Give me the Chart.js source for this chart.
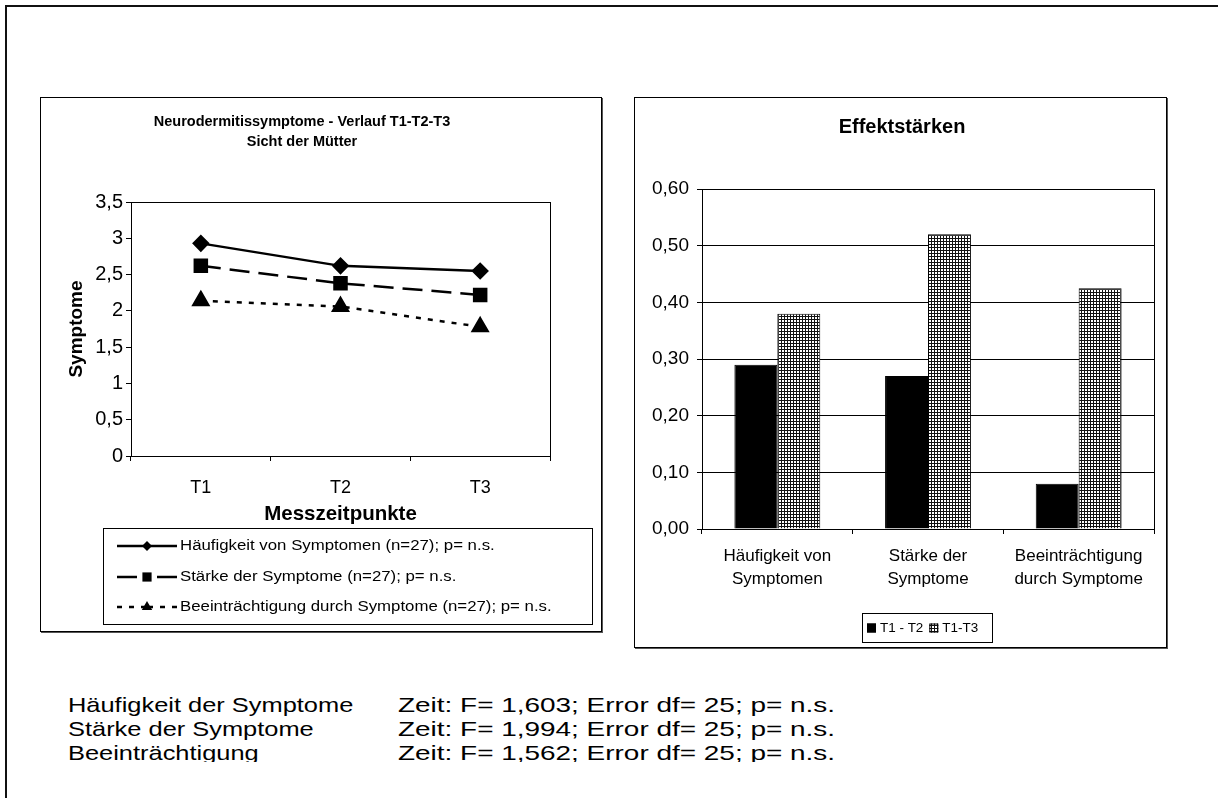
<!DOCTYPE html>
<html lang="de">
<head>
<meta charset="utf-8">
<title>Neurodermitissymptome - Effektstärken</title>
<script src="https://cdn.jsdelivr.net/npm/chart.js@4.4.0/dist/chart.umd.min.js"></script>
<style>
  html, body { margin: 0; padding: 0; background: #fff; overflow: hidden; }
  body { width: 1218px; height: 798px; position: relative; font-family: "Liberation Sans", Arial, sans-serif; }
  .frame { position: absolute; left: 5px; top: 5px; width: 1300px; height: 900px; border-left: 2px solid #111; border-top: 2px solid #111; }
  .box { position: absolute; border: 1px solid #000; box-shadow: 1px 1px 0 #555; background: #fff; }
  #leftBox { left: 40px; top: 97px; width: 560px; height: 533px; }
  #rightBox { left: 634px; top: 97px; width: 531px; height: 549px; }
  canvas { position: absolute; }
  #verlauf { left: 40px; top: 97px; }
  #effekte { left: 634px; top: 97px; }
  .notes { position: absolute; left: 0; top: 693px; width: 1218px; height: 69px; overflow: hidden; font-size: 21px; color: #000; }
  .row { position: relative; height: 24px; line-height: 24px; }
  .row span { position: absolute; top: 0; white-space: nowrap; transform-origin: 0 50%; }
  .c1 { left: 68px; transform: scaleX(1.21); }
  .c2 { left: 398px; transform: scaleX(1.33); }
</style>
</head>
<body>
<div class="frame"></div>
<div class="box" id="leftBox"></div>
<div class="box" id="rightBox"></div>
<canvas id="verlauf" width="562" height="535"></canvas>
<canvas id="effekte" width="533" height="551"></canvas>

<div class="notes">
  <div class="row"><span class="c1">Häufigkeit der Symptome</span><span class="c2">Zeit: F= 1,603; Error df= 25; p= n.s.</span></div>
  <div class="row"><span class="c1">Stärke der Symptome</span><span class="c2">Zeit: F= 1,994; Error df= 25; p= n.s.</span></div>
  <div class="row"><span class="c1">Beeinträchtigung</span><span class="c2">Zeit: F= 1,562; Error df= 25; p= n.s.</span></div>
</div>

<script>
// Verlauf T1-T2-T3 (Sicht der Mütter)
const timePoints = ['T1', 'T2', 'T3'];
const haeufigkeit = [2.93, 2.62, 2.55];
const staerke = [2.62, 2.38, 2.22];
const beeintraechtigung = [2.14, 2.06, 1.78];
const symptomTicks = ['0', '0,5', '1', '1,5', '2', '2,5', '3', '3,5'];

// Effektstärken
const effectCategories = [['Häufigkeit von', 'Symptomen'], ['Stärke der', 'Symptome'], ['Beeinträchtigung', 'durch Symptome']];
const effectT1T2 = [0.29, 0.27, 0.08];
const effectT1T3 = [0.38, 0.52, 0.425];
const effectTicks = ['0,00', '0,10', '0,20', '0,30', '0,40', '0,50', '0,60'];

Chart.defaults.font.family = '"Liberation Sans", Arial, sans-serif';
Chart.defaults.color = '#000';

// fine checkered fill like the old excel pattern
function gridPattern() {
  const c = document.createElement('canvas');
  c.width = 3;
  c.height = 3;
  const g = c.getContext('2d');
  g.fillStyle = '#fff';
  g.fillRect(0, 0, 3, 3);
  g.fillStyle = '#111';
  g.fillRect(0, 0, 3, 1);
  g.fillRect(0, 0, 1, 3);
  return g.createPattern(c, 'repeat');
}
const checkered = gridPattern();

function drawMarker(ctx, style, x, y, r) {
  ctx.beginPath();
  if (style === 'rectRot') {
    ctx.moveTo(x, y - r);
    ctx.lineTo(x + r, y);
    ctx.lineTo(x, y + r);
    ctx.lineTo(x - r, y);
  } else if (style === 'rect') {
    const s = r * Math.SQRT1_2;
    ctx.rect(x - s, y - s, 2 * s, 2 * s);
  } else {
    ctx.moveTo(x, y - r);
    ctx.lineTo(x + r * 0.866, y + r / 2);
    ctx.lineTo(x - r * 0.866, y + r / 2);
  }
  ctx.closePath();
  ctx.fill();
}

function wideText(ctx, text, x, y, stretch) {
  ctx.save();
  ctx.translate(x, y);
  ctx.scale(stretch, 1);
  ctx.fillText(text, 0, 0);
  ctx.restore();
}

// border round the plot area (top + right side)
const plotFrame = {
  id: 'plotFrame',
  afterDraw(chart) {
    const {ctx, chartArea: a} = chart;
    ctx.save();
    ctx.strokeStyle = '#000';
    ctx.lineWidth = 1;
    ctx.strokeRect(Math.round(a.left) + 0.5, Math.round(a.top) + 0.5,
      Math.round(a.right - a.left), Math.round(a.bottom - a.top));
    ctx.restore();
  }
};

// framed legend, either one row per series or all in one line
const boxLegend = {
  id: 'boxLegend',
  afterDraw(chart, args, opts) {
    const ctx = chart.ctx;
    const [bx, by, bw, bh] = opts.box;
    const stretch = opts.stretch || 1;
    ctx.save();
    ctx.fillStyle = '#fff';
    ctx.fillRect(bx, by, bw, bh);
    ctx.strokeStyle = '#000';
    ctx.lineWidth = 1;
    ctx.strokeRect(bx + 0.5, by + 0.5, bw, bh);
    ctx.font = opts.font;
    ctx.textBaseline = 'middle';
    ctx.textAlign = 'left';

    let cursor = bx + 5;
    chart.data.datasets.forEach((ds, i) => {
      ctx.fillStyle = '#000';
      if (opts.rows) {
        const y = opts.rows[i];
        const [x1, x2] = opts.sample;
        const mid = (x1 + x2) / 2;
        ctx.strokeStyle = ds.borderColor;
        ctx.lineWidth = ds.borderWidth;
        ctx.setLineDash(ds.borderDash || []);
        ctx.beginPath();
        ctx.moveTo(x1, y);
        ctx.lineTo(mid, y);
        ctx.moveTo(x2, y);
        ctx.lineTo(mid, y);
        ctx.stroke();
        ctx.setLineDash([]);
        ctx.fillStyle = ds.pointBackgroundColor;
        drawMarker(ctx, ds.pointStyle, mid, y, opts.markerRadius[i]);
        ctx.fillStyle = '#000';
        wideText(ctx, ds.label, opts.textX, y, stretch);
      } else {
        const y = by + bh / 2;
        ctx.fillStyle = ds.backgroundColor;
        ctx.fillRect(cursor, y - 4, 9, 9);
        ctx.strokeStyle = '#000';
        ctx.lineWidth = 1;
        ctx.strokeRect(cursor + 0.5, y - 3.5, 8, 8);
        cursor += 13;
        ctx.fillStyle = '#000';
        wideText(ctx, ds.label, cursor, y + 1, stretch);
        cursor += ctx.measureText(ds.label).width * stretch + 6;
      }
    });
    ctx.restore();
  }
};

new Chart(document.getElementById('verlauf'), {
  type: 'line',
  data: {
    labels: timePoints,
    datasets: [
      {
        label: 'Häufigkeit von Symptomen (n=27); p= n.s.',
        data: haeufigkeit,
        borderColor: '#000',
        borderWidth: 2.5,
        pointStyle: 'rectRot',
        pointRadius: 7,
        pointBackgroundColor: '#000',
        pointBorderColor: '#000',
      },
      {
        label: 'Stärke der Symptome (n=27); p= n.s.',
        data: staerke,
        borderColor: '#000',
        borderWidth: 2.5,
        borderDash: [20, 9],
        pointStyle: 'rect',
        pointRadius: 8.5,
        pointBackgroundColor: '#000',
        pointBorderColor: '#000',
      },
      {
        label: 'Beeinträchtigung durch Symptome (n=27); p= n.s.',
        data: beeintraechtigung,
        borderColor: '#000',
        borderWidth: 2.5,
        borderDash: [5, 7],
        pointStyle: 'triangle',
        pointRadius: 8.5,
        pointBackgroundColor: '#000',
        pointBorderColor: '#000',
      },
    ],
  },
  options: {
    responsive: false,
    animation: false,
    layout: {
      padding: { left: 14, right: 52, top: 0, bottom: 105 },
    },
    scales: {
      x: {
        offset: true,
        grid: { offset: true, drawOnChartArea: false, color: '#000', tickLength: 5 },
        border: { color: '#000' },
        ticks: { font: { size: 18 }, padding: 16, maxRotation: 0 },
        title: { display: true, text: 'Messzeitpunkte', font: { size: 20.5, weight: 'bold' }, padding: 0 },
        afterFit: (scale) => { scale.height = 71; },
      },
      y: {
        min: 0,
        max: 3.5,
        grid: { drawOnChartArea: false, color: '#000', tickLength: 5 },
        border: { color: '#000' },
        ticks: {
          stepSize: 0.5,
          font: { size: 20 },
          padding: 3,
          callback: (value, index) => symptomTicks[index],
        },
        title: { display: true, text: 'Symptome', font: { size: 19, weight: 'bold' }, padding: { top: 11.5, bottom: 0 } },
        afterFit: (scale) => { scale.width = 77; },
      },
    },
    plugins: {
      legend: { display: false },
      tooltip: { enabled: false },
      title: {
        display: true,
        text: ['Neurodermitissymptome - Verlauf T1-T2-T3', 'Sicht der Mütter'],
        font: { size: 14.5, weight: 'bold', lineHeight: '20px' },
        color: '#000',
        padding: { top: 15, bottom: 50 },
      },
      boxLegend: {
        box: [63, 431, 489, 96],
        font: '14px "Liberation Sans", Arial, sans-serif',
        stretch: 1.2,
        rows: [449, 480, 510],
        sample: [77, 137],
        markerRadius: [5, 6.5, 6],
        textX: 140,
      },
    },
  },
  plugins: [plotFrame, boxLegend],
});

new Chart(document.getElementById('effekte'), {
  type: 'bar',
  data: {
    labels: effectCategories,
    datasets: [
      {
        label: 'T1 - T2',
        data: effectT1T2,
        backgroundColor: '#000',
        borderColor: '#000',
        borderWidth: 1,
      },
      {
        label: 'T1-T3',
        data: effectT1T3,
        backgroundColor: checkered,
        borderColor: '#000',
        borderWidth: 1,
      },
    ],
  },
  options: {
    responsive: false,
    animation: false,
    categoryPercentage: 0.57,
    barPercentage: 1,
    layout: {
      padding: { left: 16, right: 13, top: 0, bottom: 49 },
    },
    scales: {
      x: {
        grid: { offset: true, drawOnChartArea: false, color: '#000', tickLength: 5 },
        border: { color: '#000' },
        ticks: { font: { size: 17, lineHeight: '23px' }, padding: 10.5, maxRotation: 0 },
        afterFit: (scale) => { scale.height = 70; },
      },
      y: {
        min: 0,
        max: 0.6,
        grid: { color: '#000', tickLength: 5 },
        border: { color: '#000' },
        ticks: {
          stepSize: 0.1,
          font: { size: 19 },
          padding: 8,
          callback: (value, index) => effectTicks[index],
        },
        afterFit: (scale) => { scale.width = 52; },
      },
    },
    plugins: {
      legend: { display: false },
      tooltip: { enabled: false },
      title: {
        display: true,
        text: 'Effektstärken',
        font: { size: 20, weight: 'bold', lineHeight: '24px' },
        color: '#000',
        padding: { top: 18, bottom: 50 },
      },
      boxLegend: {
        box: [228, 516, 130, 29],
        font: '12px "Liberation Sans", Arial, sans-serif',
        stretch: 1.12,
      },
    },
  },
  plugins: [plotFrame, boxLegend],
});
</script>
</body>
</html>
